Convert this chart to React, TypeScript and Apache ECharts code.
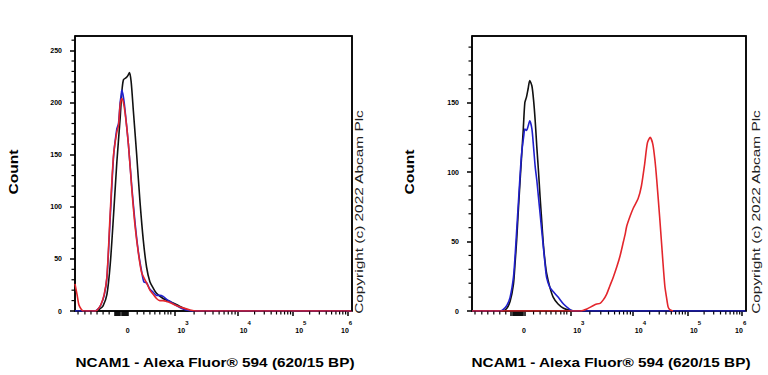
import React, { useEffect, useRef } from "react";
import * as echarts from "echarts";

// Display-scale x (biexponential channel, decade units: 10^4 -> 4, 10^5 -> 5, 10^6 -> 6)
const X_MIN = 1.04;
const X_MAX = 6.07;

// Tick marks (display units)
const X_MAJOR_TICKS = [
  1.76, 1.78, 1.8, 1.82, 1.84, 1.86, 1.88, 1.9, 1.92, 1.94, 1.96, 1.98, 2.0,
  2.86, 4.0, 5.0, 6.0,
];
const X_MINOR_TICKS = [
  1.095, 1.22, 1.33, 1.44, 1.55, 1.66,
  2.17, 2.29, 2.4, 2.49, 2.58, 2.67, 2.73, 2.78,
  3.203, 3.404, 3.546, 3.657, 3.747, 3.823, 3.889, 3.948,
  4.301, 4.477, 4.602, 4.699, 4.778, 4.845, 4.903, 4.954,
  5.301, 5.477, 5.602, 5.699, 5.778, 5.845, 5.903, 5.954,
];
const X_LABEL_POS = [1.96, 2.9, 4.03, 5.04, 5.87];
const X_LABEL_BASE = ["0", "10", "10", "10", "10"];
const X_LABEL_EXP = ["", "3", "4", "5", "6"];

const Y_LEFT_MAX = 264;
const Y_RIGHT_MAX = 198;
const Y_LEFT_MAJOR = [0, 50, 100, 150, 200, 250];
const Y_LEFT_MINOR = [10, 20, 30, 40, 60, 70, 80, 90, 110, 120, 130, 140, 160, 170, 180, 190, 210, 220, 230, 240, 260];
const Y_RIGHT_MAJOR = [0, 50, 100, 150];
const Y_RIGHT_MINOR = [10, 20, 30, 40, 60, 70, 80, 90, 110, 120, 130, 140, 160, 170, 180, 190];

const X_TITLE = "NCAM1 - Alexa Fluor® 594 (620/15 BP)";
const Y_TITLE = "Count";
const COPYRIGHT = "Copyright (c) 2022 Abcam Plc";

// Left panel histograms [display x, count]
const leftBlack = [
  [1.04, 0], [1.42, 0], [1.49, 2], [1.55, 5], [1.62, 16], [1.68, 45], [1.74, 92], [1.8, 143],
  [1.86, 185], [1.89, 210], [1.92, 222], [1.97, 224], [2.0, 226], [2.03, 229], [2.06, 220],
  [2.1, 192], [2.16, 150], [2.22, 105], [2.28, 68], [2.34, 42], [2.4, 28], [2.46, 22], [2.52, 17],
  [2.64, 12], [2.77, 9], [2.89, 6], [3.0, 3], [3.13, 0], [6.07, 0],
];
const leftBlue = [
  [1.04, 0], [1.4, 0], [1.46, 2], [1.51, 6], [1.57, 15], [1.62, 32], [1.68, 90], [1.74, 148],
  [1.8, 175], [1.83, 180], [1.86, 200], [1.88, 208], [1.89, 212], [1.92, 205], [1.95, 192],
  [2.01, 160], [2.07, 120], [2.13, 85], [2.19, 57], [2.25, 38], [2.29, 28], [2.34, 27], [2.4, 21],
  [2.46, 18], [2.52, 15], [2.58, 15], [2.64, 14], [2.71, 11], [2.77, 9], [2.89, 5], [3.0, 2],
  [3.18, 0], [6.07, 0],
];
const leftRed = [
  [1.04, 26], [1.08, 15], [1.11, 6], [1.15, 2], [1.19, 0], [1.42, 0], [1.46, 2], [1.51, 6],
  [1.57, 16], [1.62, 33], [1.68, 95], [1.74, 150], [1.8, 172], [1.83, 178], [1.86, 198],
  [1.89, 204], [1.92, 200], [1.95, 190], [2.01, 160], [2.07, 118], [2.13, 82], [2.19, 56],
  [2.25, 37], [2.34, 27], [2.4, 20], [2.46, 16], [2.52, 12], [2.58, 10], [2.64, 10], [2.71, 9],
  [2.77, 8], [2.89, 5], [3.0, 3], [3.13, 1], [3.24, 0], [6.07, 0],
];

// Right panel histograms [display x, count]
const rightBlack = [
  [1.04, 0], [1.61, 0], [1.68, 2], [1.74, 7], [1.8, 19], [1.83, 34], [1.86, 51], [1.89, 72],
  [1.92, 92], [1.95, 111], [1.98, 130], [2.01, 150], [2.04, 154], [2.07, 160], [2.1, 166],
  [2.14, 162], [2.17, 152], [2.2, 137], [2.23, 118], [2.26, 101], [2.29, 82], [2.32, 65],
  [2.35, 48], [2.38, 36], [2.41, 27], [2.47, 17], [2.53, 10], [2.62, 5], [2.72, 2], [2.84, 0.5],
  [2.96, 0], [6.07, 0],
];
const rightBlue = [
  [1.04, 0], [1.55, 0], [1.61, 1], [1.68, 4], [1.74, 10], [1.8, 24], [1.83, 39], [1.86, 58],
  [1.89, 77], [1.92, 96], [1.95, 113], [1.99, 126], [2.01, 131], [2.04, 130], [2.07, 133],
  [2.1, 137], [2.14, 131], [2.17, 118], [2.2, 104], [2.23, 94], [2.26, 82], [2.29, 70],
  [2.32, 58], [2.35, 46], [2.38, 34], [2.41, 24], [2.47, 17], [2.53, 14], [2.62, 10], [2.72, 5],
  [2.84, 1], [2.9, 0], [6.07, 0],
];
const rightRed = [
  [1.04, 0], [2.96, 0], [3.03, 0], [3.15, 1.5], [3.27, 4], [3.33, 5], [3.39, 5.5], [3.45, 8],
  [3.51, 12], [3.57, 18], [3.63, 24], [3.7, 32], [3.76, 40], [3.82, 50], [3.85, 55], [3.88, 61],
  [3.94, 68], [4.0, 74], [4.09, 81], [4.15, 90], [4.21, 106], [4.26, 121], [4.31, 125],
  [4.36, 120], [4.4, 108], [4.43, 95], [4.49, 65], [4.54, 38], [4.58, 18], [4.61, 10],
  [4.64, 3], [4.67, 1], [4.73, 0],
];

const FONT = "'Liberation Sans', Arial, sans-serif";
const COLORS = { black: "#111111", blue: "#2020cc", red: "#e3262c" };

function xLabelFormatter(v: number) {
  let idx = 0;
  let best = Infinity;
  X_LABEL_POS.forEach((p, i) => {
    const dist = Math.abs(p - v);
    if (dist < best) {
      best = dist;
      idx = i;
    }
  });
  const exp = X_LABEL_EXP[idx];
  return exp ? `{b|${X_LABEL_BASE[idx]}}{s|${exp}}` : `{b|${X_LABEL_BASE[idx]}}`;
}

function xAxis(gridIndex: number) {
  return {
    type: "value",
    gridIndex,
    min: X_MIN,
    max: X_MAX,
    position: "bottom",
    axisLine: { show: true, onZero: false, lineStyle: { color: "#000", width: 1.6 } },
    axisTick: { show: true, customValues: X_MAJOR_TICKS, length: 5, lineStyle: { color: "#000", width: 1.5 } },
    axisLabel: {
      show: true,
      customValues: X_LABEL_POS,
      formatter: xLabelFormatter,
      align: "left",
      margin: 9,
      rich: {
        b: { fontSize: 7, fontWeight: "bold", lineHeight: 14, verticalAlign: "bottom", color: "#000", fontFamily: FONT },
        s: { fontSize: 6, fontWeight: "bold", lineHeight: 8, verticalAlign: "top", color: "#000", fontFamily: FONT },
      },
    },
    splitLine: { show: false },
  };
}

function yAxis(gridIndex: number, max: number, major: number[]) {
  return {
    type: "value",
    gridIndex,
    min: 0,
    max,
    position: "left",
    axisLine: { show: true, onZero: false, lineStyle: { color: "#000", width: 1.6 } },
    axisTick: { show: true, customValues: major, length: 5, lineStyle: { color: "#000", width: 1.5 } },
    axisLabel: {
      show: true,
      customValues: major,
      fontSize: 7,
      fontWeight: "bold",
      color: "#000",
      margin: 13,
      fontFamily: FONT,
    },
    splitLine: { show: false },
  };
}

function lineSeries(data: number[][], color: string, axisIndex: number) {
  return {
    type: "line",
    data,
    xAxisIndex: axisIndex,
    yAxisIndex: axisIndex,
    showSymbol: false,
    smooth: 0.25,
    lineStyle: { color, width: 1.6 },
    itemStyle: { color },
  };
}

function textEl(text: string, x: number, y: number, opts: any) {
  return {
    type: "text",
    x,
    y,
    rotation: opts.rotation || 0,
    scaleX: opts.scaleX || 1,
    scaleY: 1,
    style: {
      text,
      fontSize: opts.fontSize,
      fontWeight: opts.fontWeight || "normal",
      fontFamily: FONT,
      fill: opts.color || "#000",
      textAlign: "center",
      textVerticalAlign: "middle",
    },
  };
}

const TEXTS = [
  textEl(Y_TITLE, 13, 172, { rotation: Math.PI / 2, fontSize: 13, fontWeight: "bold", scaleX: 1.2 }),
  textEl(Y_TITLE, 409, 172, { rotation: Math.PI / 2, fontSize: 13, fontWeight: "bold", scaleX: 1.2 }),
  textEl(X_TITLE, 215, 362, { fontSize: 13, fontWeight: "bold", scaleX: 1.18 }),
  textEl(X_TITLE, 611, 362, { fontSize: 13, fontWeight: "bold", scaleX: 1.18 }),
  textEl(COPYRIGHT, 359, 212, { rotation: Math.PI / 2, fontSize: 11, scaleX: 1.4, color: "#222" }),
  textEl(COPYRIGHT, 756, 212, { rotation: Math.PI / 2, fontSize: 11, scaleX: 1.4, color: "#222" }),
];

export default function App() {
  const ref = useRef<HTMLDivElement>(null);

  useEffect(() => {
    if (!ref.current) return;
    const chart = echarts.init(ref.current, undefined, { renderer: "svg" });
    const option: any = {
      animation: false,
      grid: [
        { left: 75, top: 36, width: 277, height: 275, show: true, borderColor: "#000", borderWidth: 1.5 },
        { left: 472, top: 36, width: 274, height: 275, show: true, borderColor: "#000", borderWidth: 1.5 },
      ],
      xAxis: [xAxis(0), xAxis(1)],
      yAxis: [yAxis(0, Y_LEFT_MAX, Y_LEFT_MAJOR), yAxis(1, Y_RIGHT_MAX, Y_RIGHT_MAJOR)],
      series: [
        lineSeries(leftBlack, COLORS.black, 0),
        lineSeries(leftBlue, COLORS.blue, 0),
        lineSeries(leftRed, COLORS.red, 0),
        lineSeries(rightBlack, COLORS.black, 1),
        lineSeries(rightBlue, COLORS.blue, 1),
        lineSeries(rightRed, COLORS.red, 1),
      ],
      graphic: TEXTS,
    };
    chart.setOption(option);

    // frame and minor ticks, positioned through the axes' own scales
    const decor: any[] = [];
    const panels = [
      { ai: 0, yMax: Y_LEFT_MAX, yMinor: Y_LEFT_MINOR },
      { ai: 1, yMax: Y_RIGHT_MAX, yMinor: Y_RIGHT_MINOR },
    ];
    panels.forEach(({ ai, yMax, yMinor }) => {
      const px = (v: number) => chart.convertToPixel({ xAxisIndex: ai } as any, v) as number;
      const py = (v: number) => chart.convertToPixel({ yAxisIndex: ai } as any, v) as number;
      const x0 = px(X_MIN);
      const x1 = px(X_MAX);
      const y0 = py(0);
      const y1 = py(yMax);
      decor.push({
        type: "polyline",
        z: 10,
        silent: true,
        shape: { points: [[x0, y1], [x1, y1], [x1, y0]] },
        style: { stroke: "#000", lineWidth: 1.5, fill: null },
      });
      X_MINOR_TICKS.forEach((v) => {
        const x = px(v);
        decor.push({
          type: "line",
          z: 10,
          silent: true,
          shape: { x1: x, y1: y0 + 0.5, x2: x, y2: y0 + 3.5 },
          style: { stroke: "#000", lineWidth: 1.2 },
        });
      });
      yMinor.forEach((v) => {
        const y = py(v);
        decor.push({
          type: "line",
          z: 10,
          silent: true,
          shape: { x1: x0 - 3.5, y1: y, x2: x0 - 0.5, y2: y },
          style: { stroke: "#000", lineWidth: 1.2 },
        });
      });
    });
    chart.setOption({ graphic: [...TEXTS, ...decor] });

    return () => chart.dispose();
  }, []);

  return (
    <div
      ref={ref}
      style={{ position: "fixed", left: 0, top: 0, width: 768, height: 375, background: "#fff" }}
    />
  );
}
